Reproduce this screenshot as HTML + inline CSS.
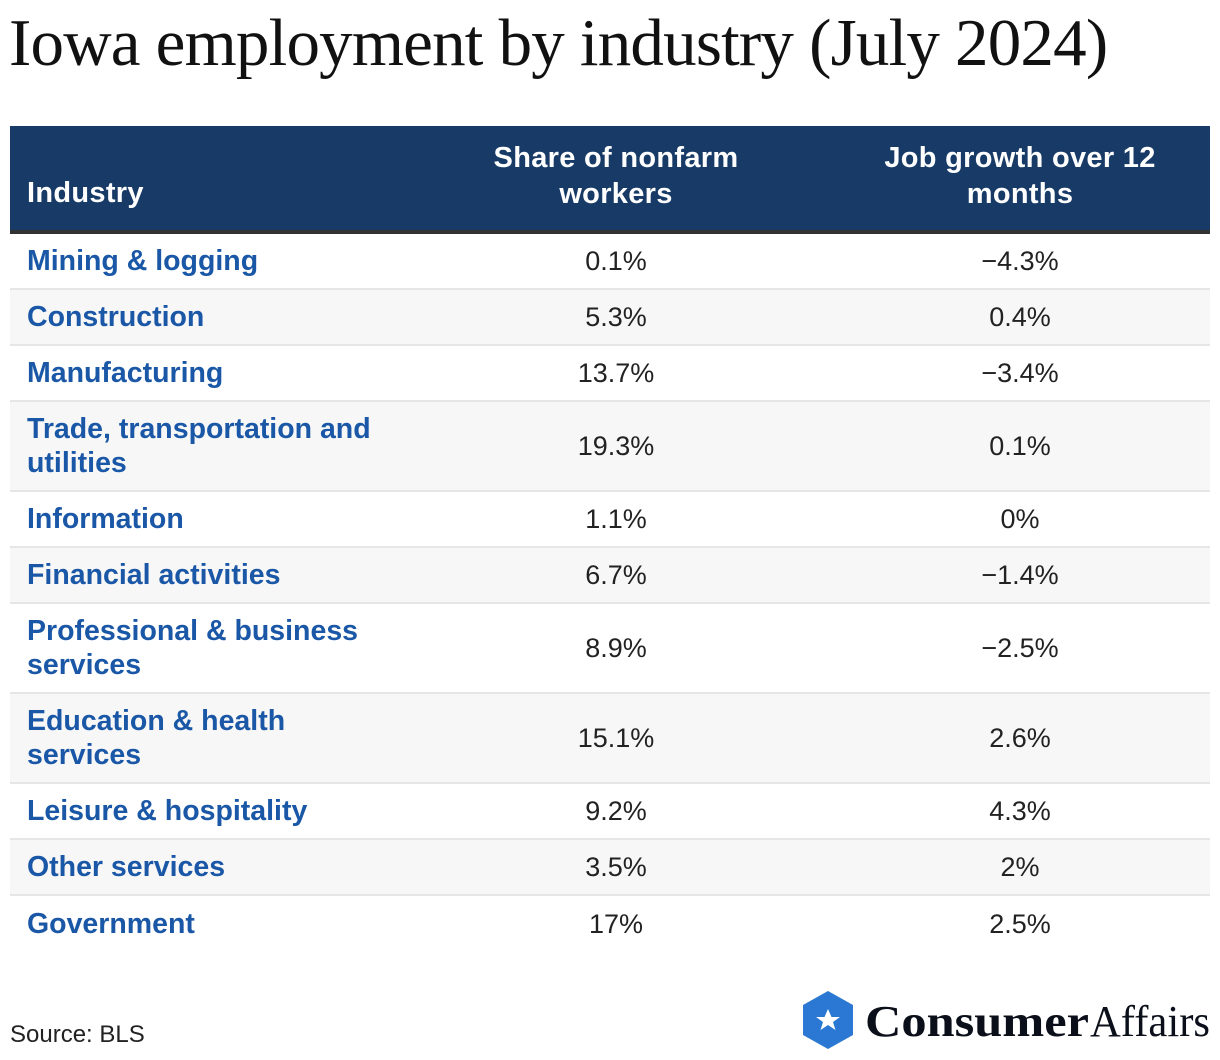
<!DOCTYPE html>
<html><head><meta charset="utf-8"><style>
body{margin:0;width:1220px;height:1060px;background:#fff;position:relative;font-family:"Liberation Sans",sans-serif;overflow:hidden}
.title{position:absolute;left:9px;top:5px;font-family:"Liberation Serif",serif;font-size:67px;color:#111;letter-spacing:-0.8px;white-space:nowrap}
.hdr{position:absolute;left:10px;top:126px;width:1200px;height:104px;background:#173a66;border-bottom:4px solid #333;color:#fff;font-weight:bold;font-size:29px;letter-spacing:0.3px}
.hdr div{position:absolute;line-height:36px}
.row{position:absolute;left:10px;width:1200px;border-bottom:2px solid #e6e6e6;box-sizing:border-box}
.row div{position:absolute;top:0;bottom:0;display:flex;align-items:center}
.ind{left:17px;color:#1a57a6;font-weight:bold;font-size:28.5px;line-height:34px}
.v{font-size:27px;color:#222;justify-content:center;width:300px}
.c1{left:456px}.c2{left:860px}
.src{position:absolute;left:10px;top:1021px;font-size:24px;color:#222}
</style></head><body>
<div class="title">Iowa employment by industry (July 2024)</div>
<div class="hdr">
<div style="left:17px;top:49px">Industry</div>
<div style="left:406px;width:400px;text-align:center;top:14px">Share of nonfarm<br>workers</div>
<div style="left:810px;width:400px;text-align:center;top:14px">Job growth over 12<br>months</div>
</div>
<div id="rows"></div>
<div class="src">Source: BLS</div>
<svg style="position:absolute;left:800px;top:988px" width="420" height="66">
<polygon points="28,3 53,17 53,47 28,61 3,47 3,17" fill="#2a78d3"/>
<polygon points="28,21 31.5,29 40,29 33,34 35.5,42 28,37 20.5,42 23,34 16,29 24.5,29" fill="#fff"/>
<text x="65" y="48" font-family="Liberation Serif,serif" font-weight="bold" font-size="44" fill="#0b0f1a" textLength="224" lengthAdjust="spacingAndGlyphs">Consumer</text>
<text x="290" y="48" font-family="Liberation Serif,serif" font-size="44" fill="#0b0f1a" textLength="120" lengthAdjust="spacingAndGlyphs">Affairs</text>
</svg>
<script>
const industries=["Mining & logging","Construction","Manufacturing","Trade, transportation and<br>utilities","Information","Financial activities","Professional & business<br>services","Education & health<br>services","Leisure & hospitality","Other services","Government"];
const shares=["0.1%","5.3%","13.7%","19.3%","1.1%","6.7%","8.9%","15.1%","9.2%","3.5%","17%"];
const growth=["\u22124.3%","0.4%","\u22123.4%","0.1%","0%","\u22121.4%","\u22122.5%","2.6%","4.3%","2%","2.5%"];
const c=document.getElementById('rows');let y=234;
industries.forEach((n,i)=>{const h=n.includes('<br>')?90:56;
const r=document.createElement('div');r.className='row';


r.style.top=y+'px';r.style.height=h+'px';r.style.background=i%2?'#f7f7f7':'#fff';
if(i===industries.length-1)r.style.borderBottom='none';
r.innerHTML='<div class="ind">'+n+'</div><div class="v c1">'+shares[i]+'</div><div class="v c2">'+growth[i]+'</div>';
c.appendChild(r);y+=h;});
</script>
</body></html>
